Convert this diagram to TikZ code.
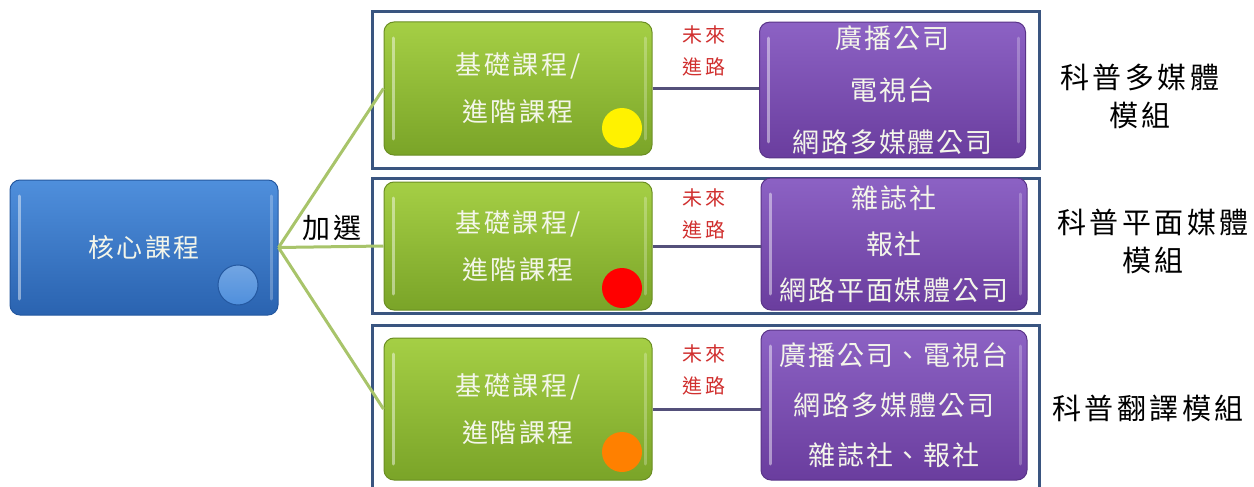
\documentclass[tikz,border=0pt]{standalone}
\usepackage{fontspec}
\setmainfont{Noto Sans CJK TC}
\newfontfamily\cjk[LetterSpace=10]{Noto Sans CJK TC}
\newfontfamily\cjkjob[LetterSpace=7]{Noto Sans CJK TC}
\newfontfamily\cjkred[LetterSpace=15]{Noto Sans CJK TC}
\newfontfamily\cjkmod[LetterSpace=12]{Noto Sans CJK TC}
\definecolor{coreTop}{HTML}{4F8FDC}
\definecolor{coreBot}{HTML}{2A63B0}
\definecolor{coreLine}{HTML}{2458A0}
\definecolor{baseTop}{HTML}{A5CF45}
\definecolor{baseBot}{HTML}{7AA428}
\definecolor{baseLine}{HTML}{6B8E23}
\definecolor{jobTop}{HTML}{8C62C4}
\definecolor{jobBot}{HTML}{6A3D9E}
\definecolor{jobLine}{HTML}{5A3488}
\definecolor{frameLine}{HTML}{3A5580}
\definecolor{pickLine}{HTML}{A8C46A}
\definecolor{pathLine}{HTML}{54507A}
\definecolor{pathText}{HTML}{D0302F}
\definecolor{boxText}{HTML}{F4F6EA}
\begin{document}
\begin{tikzpicture}[x=1pt, y=-1pt,
  glossy/.style={rounded corners=10pt, draw=#1Line, line width=1pt,
    top color=#1Top, bottom color=#1Bot, text=boxText,
    path picture={
      \draw[line width=3pt, line cap=round, white, opacity=.45]
        ([xshift=9pt,yshift=-16pt]path picture bounding box.north west) --
        ([xshift=9pt,yshift=16pt]path picture bounding box.south west);
      \draw[line width=3pt, line cap=round, white, opacity=.25]
        ([xshift=-7pt,yshift=-16pt]path picture bounding box.north east) --
        ([xshift=-7pt,yshift=16pt]path picture bounding box.south east);}},
  corebox/.style={glossy=core, align=center, font=\fontsize{26}{30}\cjk},
  basebox/.style={glossy=base, minimum width=268, align=center,
    font=\fontsize{26}{47}\cjk},
  jobbox/.style={glossy=job, minimum width=266, align=center},
  frame/.style={draw=frameLine, line width=3pt},
  pick/.style={draw=pickLine, line width=3pt},
  future/.style={draw=pathLine, line width=3pt},
  futuretext/.style={text=pathText, align=center, font=\fontsize{20}{32}\cjkred},
  dot/.style={circle, minimum size=40, inner sep=0pt},
  module/.style={align=center, font=\fontsize{29}{38}\cjkmod}]
\useasboundingbox (0,0) rectangle (1254,487);

% module frames
\draw[frame] (372,12) rectangle (1039,168);
\draw[frame] (372,178) rectangle (1039,313);
\draw[frame] (372,325) rectangle (1039,495);

% core course
\node[corebox, minimum width=268, minimum height=135] (core) at (144,247.5) {核心課程};
\node[dot, draw=coreLine, line width=1pt, top color=coreTop!80!white, bottom color=coreTop]
  (coredot) at (238,285) {};
\node[font=\fontsize{28}{30}\cjk] (pick) at (332,228) {加選};

% base / advanced courses
\foreach \n/\y/\h/\c/\dy in {1/88.5/133/yellow/128, 2/246/128/red/288, 3/409/142/orange/452}{
  \node[basebox, minimum height=\h] (base\n) at (518,\y) {基礎課程/\\進階課程};
  \node[dot, fill=\c] (dot\n) at (622,\dy) {};
  \draw[pick] (core.east) -- (base\n.west);
}

% future careers
\node[jobbox, minimum height=134, font=\fontsize{27}{52}\cjkjob] (job1) at (892.5,90)
  {廣播公司\\電視台\\網路多媒體公司};
\node[jobbox, minimum height=132, font=\fontsize{27}{46}\cjkjob] (job2) at (894,244)
  {雜誌社\\報社\\網路平面媒體公司};
\node[jobbox, minimum height=150, font=\fontsize{27}{50}\cjkjob] (job3) at (894,405)
  {廣播公司、電視台\\網路多媒體公司\\雜誌社、報社};

\foreach \n/\y in {1/51, 2/214, 3/370}{
  \draw[future] (base\n.east) -- (base\n.east -| job\n.west);
  \node[futuretext] (future\n) at (704,\y) {未來\\進路};
}

% module names
\node[module] (mod1) at (1140,96) {科普多媒體\\模組};
\node[module] (mod2) at (1153,241) {科普平面媒體\\模組};
\node[module] (mod3) at (1148,408) {科普翻譯模組};
\end{tikzpicture}
\end{document}
